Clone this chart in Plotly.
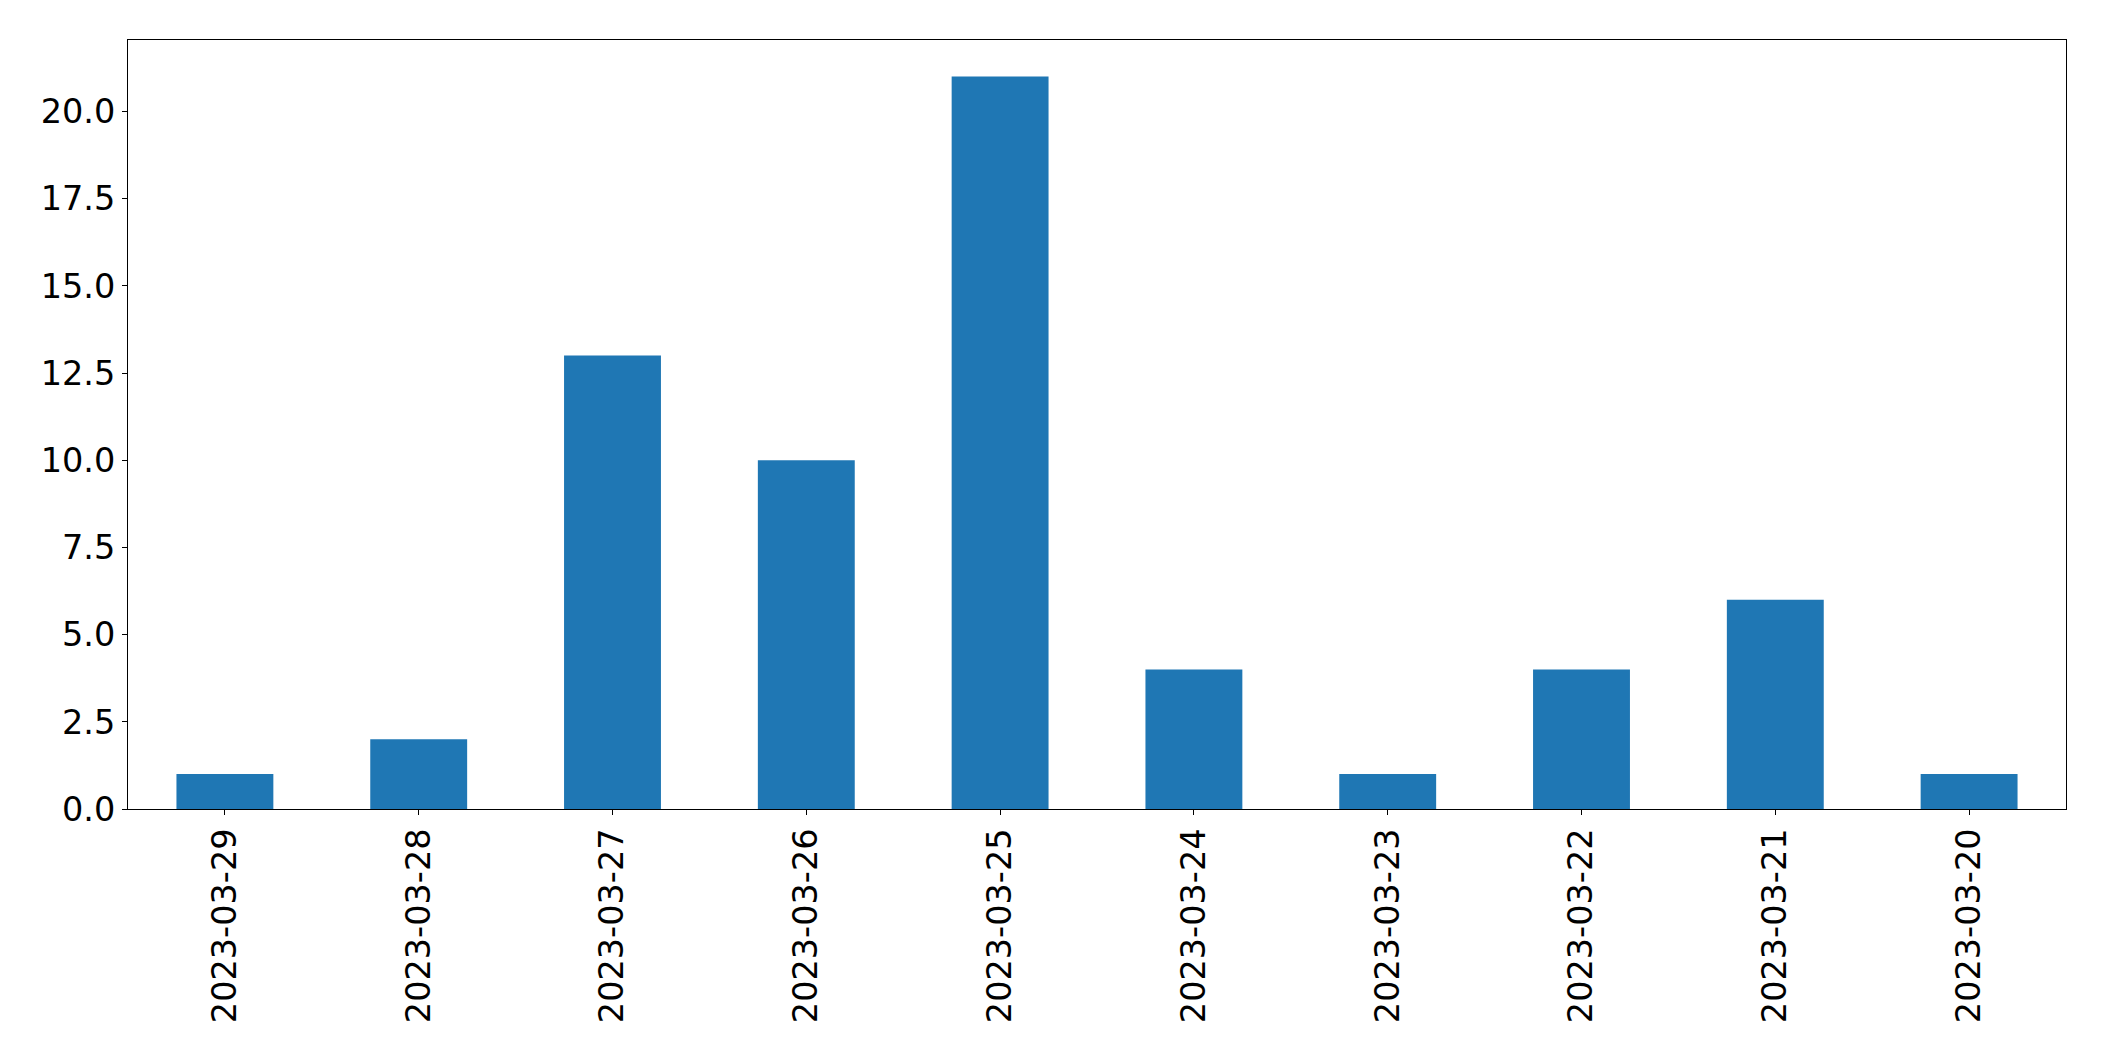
import plotly.graph_objects as go

dates = ["2023-03-29", "2023-03-28", "2023-03-27", "2023-03-26", "2023-03-25",
         "2023-03-24", "2023-03-23", "2023-03-22", "2023-03-21", "2023-03-20"]
counts = [1, 2, 13, 10, 21, 4, 1, 4, 6, 1]
y_ticks = [0, 2.5, 5, 7.5, 10, 12.5, 15, 17.5, 20]
y_tick_labels = ["0.0", "2.5", "5.0", "7.5", "10.0", "12.5", "15.0", "17.5", "20.0"]

fig = go.Figure(go.Bar(x=list(range(len(dates))), y=counts, width=0.5,
                       marker=dict(color="#1f77b4", line=dict(width=0))))

# page body has an 8px margin
W, H = 2104 - 16, 1061 - 16
fig.update_layout(
    width=W, height=H,
    margin=dict(l=119.5, r=30.3, t=31.5, b=243.7, pad=0),
    paper_bgcolor="white", plot_bgcolor="white",
    font=dict(family="DejaVu Sans", size=33.5, color="black"),
    showlegend=False,
)
fig.update_xaxes(
    range=[-0.5, len(dates) - 0.5],
    tickmode="array", tickvals=list(range(len(dates))), ticktext=dates,
    tickangle=-90, ticks="outside", ticklen=5, tickwidth=1.1, tickcolor="black",
    showline=True, linecolor="black", linewidth=1.1, mirror=True,
    showgrid=False, zeroline=False, ticklabelstandoff=0,
)
fig.update_yaxes(
    range=[0, 22.05],
    tickmode="array", tickvals=y_ticks, ticktext=y_tick_labels,
    ticks="outside", ticklen=5, tickwidth=1.1, tickcolor="black",
    showline=True, linecolor="black", linewidth=1.1, mirror=True,
    showgrid=False, zeroline=False, ticklabelstandoff=0,
)
fig.write_html("out.html")
